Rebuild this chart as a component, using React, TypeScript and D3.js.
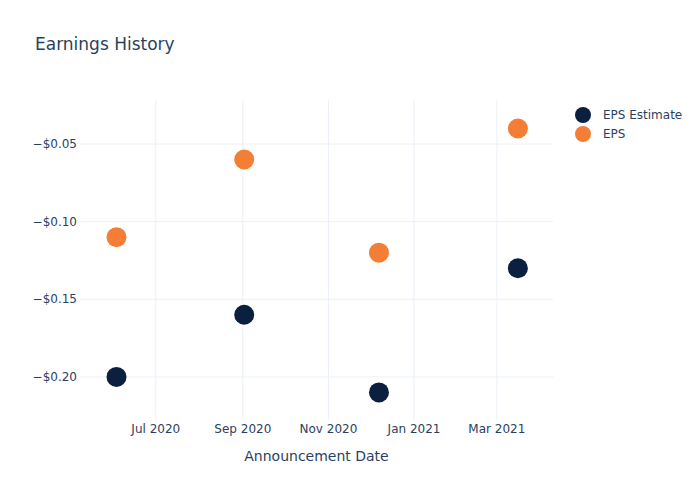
import React from "react";
import * as d3 from "d3";

const dates = ["2020-06-03", "2020-09-02", "2020-12-07", "2021-03-16"];
const epsEstimate = [-0.2, -0.16, -0.21, -0.13];
const eps = [-0.11, -0.06, -0.12, -0.04];
const xTicks = ["2020-07-01", "2020-09-01", "2020-11-01", "2021-01-01", "2021-03-01"];
const yTicks = [-0.05, -0.1, -0.15, -0.2];
const seriesNames = ["EPS Estimate", "EPS"];
const colors = ["#0b1f3f", "#f47e35"];

const W = 700, H = 500;
const left = 80, right = 553, top = 100, bottom = 420;
const FONT = "'DejaVu Sans', sans-serif";
const TXT = "#2a3f5f";

export default function App() {
  const parse = d3.timeParse("%Y-%m-%d");
  const x = d3.scaleTime()
    .domain([parse("2020-05-08")!, parse("2021-04-10")!])
    .range([left, right]);
  const y = d3.scaleLinear().domain([-0.2284, -0.0223]).range([bottom + 1, top + 1]);
  const fmtX = d3.timeFormat("%b %Y");
  const fmtY = (v: number) => "\u2212$" + Math.abs(v).toFixed(2);
  const series = [epsEstimate, eps];
  return (
    <svg width={W} height={H} style={{ position: "absolute", left: 0, top: 0, fontFamily: FONT }}>
      <rect width={W} height={H} fill="#fff" />
      {xTicks.map((t) => {
        const xx = x(parse(t)!);
        return (
          <g key={t}>
            <line x1={xx} x2={xx} y1={top} y2={bottom} stroke="#ebf0f8" strokeWidth={1} />
            <text x={xx} y={433} textAnchor="middle" fontSize={12} fill={TXT}>{fmtX(parse(t)!)}</text>
          </g>
        );
      })}
      {yTicks.map((t) => {
        const yy = y(t);
        return (
          <g key={t}>
            <line x1={left} x2={right} y1={yy} y2={yy} stroke="#ebf0f8" strokeWidth={1} />
            <text x={left - 3} y={yy + 4} textAnchor="end" fontSize={12} fill={TXT}>{fmtY(t)}</text>
          </g>
        );
      })}
      {series.map((s, si) =>
        s.map((v, i) => (
          <circle key={si + "-" + i} cx={x(parse(dates[i])!)} cy={y(v)} r={10} fill={colors[si]} />
        ))
      )}
      <text x={35} y={50} fontSize={17} fill={TXT}>Earnings History</text>
      <text x={(left + right) / 2} y={461} textAnchor="middle" fontSize={14} fill={TXT}>Announcement Date</text>
      {seriesNames.map((n, i) => (
        <g key={n} transform={`translate(583, ${115 + i * 19})`}>
          <circle cx={0} cy={0} r={8} fill={colors[i]} />
          <text x={20} y={4} fontSize={12} fill={TXT}>{n}</text>
        </g>
      ))}
    </svg>
  );
}
